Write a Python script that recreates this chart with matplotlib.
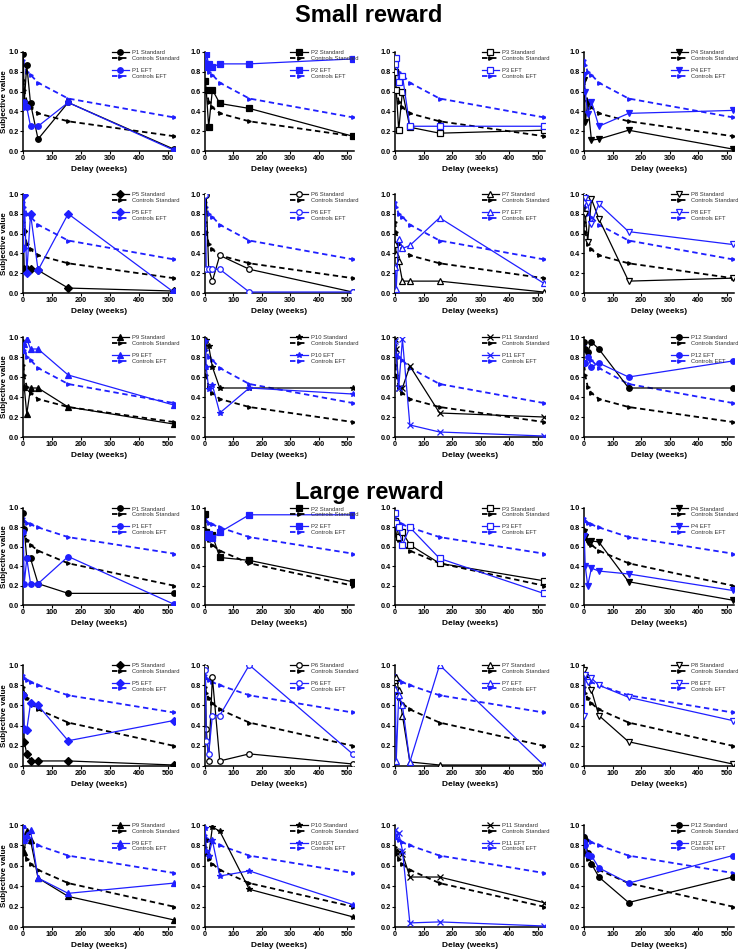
import matplotlib
matplotlib.use("Agg")
import matplotlib.pyplot as plt

plt.rcParams['font.family'] = ['Liberation Sans', 'DejaVu Sans']

delays = [1, 4.3, 13, 26, 52, 156, 520]

ctrl_std_small = [0.72, 0.62, 0.50, 0.44, 0.38, 0.30, 0.15]
ctrl_eft_small = [0.92, 0.87, 0.80, 0.77, 0.69, 0.53, 0.34]
ctrl_std_large = [0.78, 0.72, 0.67, 0.62, 0.56, 0.43, 0.20]
ctrl_eft_large = [0.90, 0.87, 0.85, 0.83, 0.80, 0.70, 0.53]

participants = ["P1", "P2", "P3", "P4", "P5", "P6", "P7", "P8", "P9", "P10", "P11", "P12"]

small_std = [
    [0.98, 0.49, 0.87, 0.48, 0.12, 0.49, 0.02],
    [0.71, 0.62, 0.24, 0.62, 0.48, 0.43, 0.15],
    [0.80, 0.62, 0.21, 0.60, 0.24, 0.18, 0.21],
    [0.72, 0.29, 0.48, 0.11, 0.12, 0.21, 0.02],
    [0.63, 0.24, 0.24, 0.24, 0.23, 0.05, 0.02],
    [0.99, 0.99, 0.24, 0.12, 0.38, 0.24, 0.01],
    [0.50, 0.39, 0.32, 0.12, 0.12, 0.12, 0.01],
    [0.99, 0.80, 0.52, 0.95, 0.75, 0.12, 0.15],
    [0.95, 0.50, 0.23, 0.49, 0.49, 0.30, 0.13],
    [0.70, 0.97, 0.91, 0.70, 0.49, 0.49, 0.49],
    [0.98, 0.88, 0.49, 0.49, 0.71, 0.24, 0.20],
    [0.95, 0.88, 0.85, 0.95, 0.88, 0.49, 0.49],
]
small_eft = [
    [0.44, 0.49, 0.44, 0.25, 0.25, 0.49, 0.01],
    [0.85, 0.98, 0.88, 0.85, 0.88, 0.88, 0.93],
    [0.88, 0.94, 0.70, 0.76, 0.25, 0.25, 0.25],
    [0.77, 0.60, 0.37, 0.50, 0.25, 0.38, 0.41],
    [0.45, 0.99, 0.20, 0.80, 0.23, 0.80, 0.01],
    [0.99, 0.24, 0.24, 0.24, 0.24, 0.01, 0.01],
    [0.26, 0.04, 0.55, 0.45, 0.48, 0.76, 0.10],
    [0.91, 0.96, 0.91, 0.70, 0.90, 0.62, 0.49],
    [0.87, 0.93, 0.98, 0.88, 0.88, 0.62, 0.32],
    [0.96, 0.70, 0.48, 0.52, 0.24, 0.49, 0.43],
    [0.96, 0.82, 0.49, 0.98, 0.12, 0.05, 0.01],
    [0.74, 0.74, 0.80, 0.70, 0.74, 0.60, 0.76],
]
large_std = [
    [0.95, 0.78, 0.48, 0.48, 0.22, 0.12, 0.12],
    [0.94, 0.75, 0.72, 0.72, 0.49, 0.46, 0.24],
    [0.87, 0.85, 0.70, 0.75, 0.62, 0.43, 0.25],
    [0.75, 0.70, 0.65, 0.66, 0.65, 0.24, 0.05],
    [0.70, 0.24, 0.12, 0.05, 0.05, 0.05, 0.01],
    [0.98, 0.37, 0.05, 0.88, 0.05, 0.12, 0.02],
    [0.85, 0.88, 0.75, 0.50, 0.04, 0.01, 0.01],
    [0.95, 0.88, 0.85, 0.75, 0.50, 0.24, 0.02],
    [0.75, 0.74, 0.94, 0.85, 0.48, 0.30, 0.07],
    [0.85, 0.73, 0.70, 0.98, 0.94, 0.37, 0.10],
    [0.75, 0.74, 0.74, 0.72, 0.49, 0.49, 0.24],
    [0.88, 0.85, 0.73, 0.62, 0.49, 0.24, 0.49],
]
large_eft = [
    [0.75, 0.22, 0.48, 0.22, 0.22, 0.50, 0.01],
    [0.73, 0.70, 0.73, 0.69, 0.75, 0.93, 0.93],
    [0.95, 0.85, 0.80, 0.62, 0.80, 0.48, 0.12],
    [0.71, 0.40, 0.20, 0.38, 0.35, 0.32, 0.15],
    [0.70, 0.37, 0.36, 0.62, 0.60, 0.25, 0.45],
    [0.95, 0.25, 0.12, 0.50, 0.50, 1.00, 0.12],
    [0.76, 0.05, 0.70, 0.60, 0.04, 1.00, 0.01],
    [0.50, 0.90, 0.83, 0.87, 0.80, 0.68, 0.45],
    [1.00, 0.85, 0.90, 0.95, 0.48, 0.33, 0.43],
    [0.97, 0.75, 0.70, 0.85, 0.50, 0.55, 0.22],
    [0.95, 0.90, 0.92, 0.75, 0.04, 0.05, 0.01],
    [0.83, 0.80, 0.71, 0.70, 0.58, 0.43, 0.70],
]

# marker style per participant: (marker, filled)
markers = [("o", True), ("s", True), ("s", False), ("v", True), ("D", True), ("o", False),
           ("^", False), ("v", False), ("^", True), ("*", True), ("x", True), ("o", True)]

W, H = 738, 951
fig = plt.figure(figsize=(W / 100, H / 100), dpi=100)

col_px = [(23, 175), (205, 354), (395, 545), (584, 734)]
row_px = [(52, 151), (194, 293), (337, 437), (508, 605), (665, 766), (825, 927)]
XMAX = 525

BLUE = "#1f1fff"

fig.text(0.5, 1 - 15 / H, "Small reward", ha="center", va="center", fontsize=17, fontweight="bold")
fig.text(0.5, 1 - 493 / H, "Large reward", ha="center", va="center", fontsize=17, fontweight="bold")

for sec in range(2):
    std_data = small_std if sec == 0 else large_std
    eft_data = small_eft if sec == 0 else large_eft
    cstd = ctrl_std_small if sec == 0 else ctrl_std_large
    ceft = ctrl_eft_small if sec == 0 else ctrl_eft_large
    for i in range(12):
        r = sec * 3 + i // 4
        c = i % 4
        x0, x1 = col_px[c]
        y0, y1 = row_px[r]
        ax = fig.add_axes([x0 / W, 1 - y1 / H, (x1 - x0) / W, (y1 - y0) / H])
        mk, filled = markers[i]
        ms = 4
        ax.plot(delays, std_data[i], color="black", lw=0.9, marker=mk, ms=ms,
                mfc="black" if filled else "white", mec="black", mew=0.9,
                label=f"{participants[i]} Standard", zorder=4)
        ax.plot(delays, cstd, color="black", lw=1.3, ls=(0, (3, 2)), marker=">", ms=2.5,
                label="Controls Standard", zorder=3)
        ax.plot([], [], color="none", label=" ")
        ax.plot(delays, eft_data[i], color=BLUE, lw=0.9, marker=mk, ms=ms,
                mfc=BLUE if filled else "white", mec=BLUE, mew=0.9,
                label=f"{participants[i]} EFT", zorder=4)
        ax.plot(delays, ceft, color=BLUE, lw=1.3, ls=(0, (3, 2)), marker=">", ms=2.5,
                label="Controls EFT", zorder=3)
        ax.set_xlim(0, XMAX)
        ax.set_ylim(0, 1.0)
        ax.set_xticks([0, 100, 200, 300, 400, 500])
        ax.set_yticks([0.0, 0.2, 0.4, 0.6, 0.8, 1.0])
        ax.set_yticklabels(["0.0", "0.2", "0.4", "0.6", "0.8", "1.0"])
        for s in ["top", "right"]:
            ax.spines[s].set_visible(False)
        for s in ["left", "bottom"]:
            ax.spines[s].set_linewidth(1.1)
        ax.tick_params(labelsize=5.3, length=2.0, width=0.8, pad=1.0)
        for lab in ax.get_xticklabels() + ax.get_yticklabels():
            lab.set_fontweight("bold")
        ax.set_xlabel("Delay (weeks)", fontsize=6, fontweight="bold", labelpad=3)
        if c == 0:
            ax.set_ylabel("Subjective value", fontsize=5.8, fontweight="bold", labelpad=0.5)
        ax.patch.set_alpha(0)
        leg = ax.legend(loc="upper right", bbox_to_anchor=(1.045, 1.04), fontsize=4.2,
                        frameon=False, handlelength=3.0, labelspacing=0.12, handletextpad=0.5,
                        borderaxespad=0)
        for t in leg.get_texts():
            t.set_color("#333333")

fig.savefig("out.png", dpi=100)
